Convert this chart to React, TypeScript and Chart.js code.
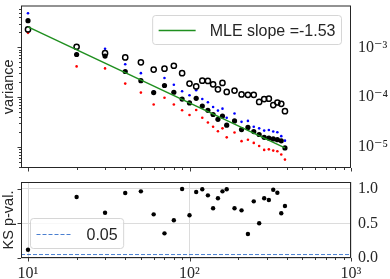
import React, { useEffect, useRef } from 'react';
import { Chart, registerables } from 'chart.js';

Chart.register(...registerables);

// ---------------- data ----------------
const windowSizes = [10, 20, 30, 40, 50, 60, 70, 80, 90, 100, 110, 120, 130, 140, 150, 160, 170, 190, 210, 230, 250, 270, 290, 310, 330, 350, 370, 390];

const openVariance = [2.30e-3, 1.03e-3, 7.64e-4, 6.28e-4, 5.01e-4, 3.57e-4, 3.73e-4, 4.27e-4, 3.03e-4, 1.87e-4, 1.64e-4, 2.14e-4, 2.11e-4, 1.81e-4, 1.43e-4, 1.93e-4, 1.27e-4, 1.35e-4, 1.13e-4, 1.11e-4, 1.11e-4, 8.00e-5, 9.14e-5, 9.31e-5, 6.90e-5, 7.78e-5, 7.31e-5, 5.20e-5];
const blackVariance = [3.44e-3, 7.18e-4, 6.68e-4, 3.27e-4, 2.14e-4, 1.23e-4, 1.71e-4, 1.25e-4, 9.14e-5, 7.64e-5, 9.44e-5, 6.59e-5, 5.43e-5, 4.47e-5, 3.57e-5, 4.16e-5, 2.73e-5, 3.32e-5, 2.22e-5, 2.46e-5, 2.03e-5, 1.77e-5, 1.55e-5, 1.50e-5, 1.44e-5, 1.39e-5, 1.32e-5, 9.48e-6];
const blueVariance = [4.86e-3, 7.41e-4, 9.39e-4, 4.58e-4, 3.03e-4, 1.29e-4, 2.42e-4, 1.77e-4, 1.31e-4, 1.09e-4, 1.37e-4, 9.14e-5, 7.89e-5, 6.31e-5, 5.35e-5, 5.85e-5, 3.85e-5, 4.67e-5, 3.18e-5, 3.32e-5, 2.54e-5, 2.35e-5, 2.12e-5, 2.18e-5, 2.03e-5, 1.97e-5, 1.64e-5, 1.33e-5];
const redVariance = [1.96e-3, 4.14e-4, 3.78e-4, 1.87e-4, 1.23e-4, 7.11e-5, 9.73e-5, 7.11e-5, 5.43e-5, 4.35e-5, 5.51e-5, 3.85e-5, 3.08e-5, 2.54e-5, 2.06e-5, 2.35e-5, 1.55e-5, 1.94e-5, 1.30e-5, 1.39e-5, 1.20e-5, 1.04e-5, 8.67e-6, 8.89e-6, 8.39e-6, 8.14e-6, 7.02e-6, 5.53e-6];

const fitX = [10, 390];
const fitVariance = [2.59e-3, 9.55e-6];
const fitLabel = 'MLE slope =-1.53';

const ksPValues = [0.12, 0.883, 0.656, 0.94, 0.965, 0.632, 0.357, 0.546, 0.999, 0.618, 0.955, 0.994, 0.907, 0.719, 0.864, 0.965, 0.994, 0.719, 0.69, 0.347, 0.82, 0.502, 0.864, 0.839, 0.988, 0.945, 0.647, 0.753];
const alphaLevel = 0.05;
const alphaLabel = '0.05';

// axis ranges and ticks
const X_MIN = 9.05;
const X_MAX = 1000;
const VAR_MIN = 3.75e-6;
const VAR_MAX = 6.95e-3;
const P_MIN = 0;
const P_MAX = 1.1;

const xMajorTicks = [10, 100, 1000];
const xTickLabels = ['10¹', '10²', '10³'];
const xMinorTicks = [20, 30, 40, 50, 60, 70, 80, 90, 200, 300, 400, 500, 600, 700, 800, 900];

const varMajorTicks = [1e-5, 1e-4, 1e-3];
const varTickLabels = ['10⁻⁵', '10⁻⁴', '10⁻³'];
const varMinorTicks = [4e-6, 5e-6, 6e-6, 7e-6, 8e-6, 9e-6, 2e-5, 3e-5, 4e-5, 5e-5, 6e-5, 7e-5, 8e-5, 9e-5, 2e-4, 3e-4, 4e-4, 5e-4, 6e-4, 7e-4, 8e-4, 9e-4, 2e-3, 3e-3, 4e-3, 5e-3, 6e-3];

const pTicks = [0, 0.5, 1.0];
const pTickLabels = ['0.0', '0.5', '1.0'];

// ---------------- styles ----------------
const SANS = "'Liberation Sans', Arial, sans-serif";
const SERIF = "'Liberation Serif', 'DejaVu Serif', serif";
const INK = '#262626';
const GRID = '#dcdcdc';
const GREEN = '#1f8f1f';
const DASH_BLUE = '#4a7fd0';

function labelFor(values: number[], labels: string[]) {
  return (v: any) => {
    const n = Number(v);
    const i = values.findIndex((t) => t === n || (t !== 0 && Math.abs(t - n) / Math.abs(t) < 1e-6));
    return i >= 0 ? labels[i] : '';
  };
}

function fixSize(dim: 'width' | 'height', size: number) {
  return (s: any) => {
    s[dim] = size;
    s.paddingTop = 0;
    s.paddingBottom = 0;
    s.paddingLeft = 0;
    s.paddingRight = 0;
  };
}

function frameTicksPlugin(cfg: { xMajor: number[]; xMinor: number[]; yMajor: number[]; yMinor: number[]; yScale: string }) {
  return {
    id: 'frameTicks',
    afterDraw(chart: any) {
      const { ctx, chartArea: a, scales } = chart;
      const xs = scales.x;
      const ys = scales[cfg.yScale];
      ctx.save();
      ctx.strokeStyle = INK;
      ctx.lineWidth = 0.9;
      ctx.beginPath();
      const vx = (v: number, len: number) => {
        const p = Math.round(xs.getPixelForValue(v)) + 0.5;
        ctx.moveTo(p, a.bottom);
        ctx.lineTo(p, a.bottom + len);
      };
      const hy = (v: number, len: number) => {
        const p = Math.round(ys.getPixelForValue(v)) + 0.5;
        ctx.moveTo(a.left, p);
        ctx.lineTo(a.left - len, p);
      };
      cfg.xMajor.forEach((v) => vx(v, 3.5));
      cfg.xMinor.forEach((v) => vx(v, 2));
      cfg.yMajor.forEach((v) => hy(v, 3.5));
      cfg.yMinor.forEach((v) => hy(v, 2));
      ctx.stroke();
      ctx.lineWidth = 1;
      ctx.strokeRect(a.left + 0.5, a.top + 0.5, a.right - a.left - 1, a.bottom - a.top - 1);
      ctx.restore();
    },
  };
}

function boxLegendPlugin(cfg: { datasetIndex: number; corner: 'tr' | 'bl'; lineLen: number; h: number }) {
  return {
    id: 'boxLegend',
    afterDraw(chart: any) {
      const { ctx, chartArea: a } = chart;
      const ds = chart.data.datasets[cfg.datasetIndex];
      ctx.save();
      ctx.font = `16px ${SANS}`;
      const tw = ctx.measureText(ds.label).width;
      const padL = 6, gap = 14, padR = 6;
      const w = padL + cfg.lineLen + gap + tw + padR;
      const h = cfg.h;
      const x0 = cfg.corner === 'tr' ? a.right - 9.5 - w : a.left + 9.5;
      const y0 = cfg.corner === 'tr' ? a.top + 10 : a.bottom - 9.5 - h;
      ctx.beginPath();
      if ((ctx as any).roundRect) (ctx as any).roundRect(x0, y0, w, h, 3);
      else ctx.rect(x0, y0, w, h);
      ctx.fillStyle = 'rgba(255,255,255,0.8)';
      ctx.fill();
      ctx.strokeStyle = 'rgba(204,204,204,0.8)';
      ctx.lineWidth = 1;
      ctx.stroke();
      const ly = Math.round(y0 + h / 2) + 0.5;
      ctx.beginPath();
      ctx.setLineDash(ds.borderDash || []);
      ctx.strokeStyle = ds.borderColor;
      ctx.lineWidth = ds.borderWidth;
      ctx.moveTo(x0 + padL, ly);
      ctx.lineTo(x0 + padL + cfg.lineLen, ly);
      ctx.stroke();
      ctx.setLineDash([]);
      ctx.fillStyle = INK;
      ctx.textBaseline = 'middle';
      ctx.textAlign = 'left';
      ctx.fillText(ds.label, x0 + padL + cfg.lineLen + gap, ly + 1);
      ctx.restore();
    },
  };
}

function points(xv: number[], yv: number[]) {
  return xv.map((x, i) => ({ x, y: yv[i] }));
}

export default function App() {
  const topRef = useRef<HTMLCanvasElement>(null);
  const botRef = useRef<HTMLCanvasElement>(null);

  useEffect(() => {
    const top = new Chart(topRef.current as HTMLCanvasElement, {
      type: 'scatter',
      data: {
        datasets: [
          {
            label: fitLabel,
            data: points(fitX, fitVariance),
            showLine: true,
            borderColor: GREEN,
            borderWidth: 1.5,
            pointRadius: 0,
            yAxisID: 'y',
          },
          {
            label: 'open',
            data: points(windowSizes, openVariance),
            pointRadius: 2.6,
            pointBorderWidth: 1.5,
            pointBorderColor: '#000',
            pointBackgroundColor: 'rgba(0,0,0,0)',
            yAxisID: 'y',
          },
          {
            label: 'filled',
            data: points(windowSizes, blackVariance),
            pointRadius: 2.6,
            pointBorderWidth: 0,
            pointBackgroundColor: '#000',
            yAxisID: 'y',
          },
          {
            label: 'blue',
            data: points(windowSizes, blueVariance),
            pointRadius: 1.3,
            pointBorderWidth: 0,
            pointBackgroundColor: '#0000ff',
            yAxisID: 'y',
          },
          {
            label: 'red',
            data: points(windowSizes, redVariance),
            pointRadius: 1.3,
            pointBorderWidth: 0,
            pointBackgroundColor: '#ff0000',
            yAxisID: 'y',
          },
        ],
      },
      options: {
        responsive: false,
        animation: false,
        layout: { padding: { top: 0, bottom: 10, left: 0, right: 0 } },
        plugins: { legend: { display: false }, tooltip: { enabled: false } },
        scales: {
          x: { type: 'logarithmic', min: X_MIN, max: X_MAX, display: false, afterFit: fixSize('height', 0) },
          y: {
            type: 'logarithmic',
            position: 'left',
            min: VAR_MIN,
            max: VAR_MAX,
            ticks: { display: false },
            grid: { display: false },
            border: { display: false },
            title: { display: true, text: 'variance', color: INK, font: { family: SANS, size: 14.5 }, padding: { top: 0, bottom: 0 } },
            afterFit: fixSize('width', 21),
          },
          y2: {
            type: 'logarithmic',
            position: 'right',
            min: VAR_MIN,
            max: VAR_MAX,
            afterBuildTicks: (s: any) => { s.ticks = varMajorTicks.map((v) => ({ value: v })); },
            ticks: { autoSkip: false, padding: 7, color: INK, font: { family: SERIF, size: 16 }, callback: labelFor(varMajorTicks, varTickLabels) },
            grid: { display: false, drawTicks: false },
            border: { display: false },
            afterFit: fixSize('width', 39),
          },
        },
      } as any,
      plugins: [
        frameTicksPlugin({ xMajor: xMajorTicks, xMinor: xMinorTicks, yMajor: varMajorTicks, yMinor: varMinorTicks, yScale: 'y' }),
        boxLegendPlugin({ datasetIndex: 0, corner: 'tr', lineLen: 37, h: 29 }),
      ] as any,
    });

    const bot = new Chart(botRef.current as HTMLCanvasElement, {
      type: 'scatter',
      data: {
        datasets: [
          {
            label: alphaLabel,
            data: [{ x: X_MIN, y: alphaLevel }, { x: X_MAX, y: alphaLevel }],
            showLine: true,
            borderColor: DASH_BLUE,
            borderWidth: 1,
            borderDash: [4, 2],
            pointRadius: 0,
            yAxisID: 'y',
          },
          {
            label: 'KS',
            data: points(windowSizes, ksPValues),
            pointRadius: 2.2,
            pointBorderWidth: 0,
            pointBackgroundColor: '#000',
            yAxisID: 'y',
          },
        ],
      },
      options: {
        responsive: false,
        animation: false,
        layout: { padding: { top: 4, bottom: 0, left: 0, right: 0 } },
        plugins: { legend: { display: false }, tooltip: { enabled: false } },
        scales: {
          x: {
            type: 'logarithmic',
            min: X_MIN,
            max: X_MAX,
            afterBuildTicks: (s: any) => { s.ticks = xMajorTicks.map((v) => ({ value: v })); },
            ticks: { autoSkip: false, maxRotation: 0, padding: 6, color: INK, font: { family: SERIF, size: 16 }, callback: labelFor(xMajorTicks, xTickLabels) },
            grid: { color: GRID, lineWidth: 1, drawTicks: false },
            border: { display: false },
            afterFit: fixSize('height', 21),
          },
          y: {
            type: 'linear',
            position: 'left',
            min: P_MIN,
            max: P_MAX,
            afterBuildTicks: (s: any) => { s.ticks = pTicks.map((v) => ({ value: v })); },
            ticks: { display: false },
            grid: { color: GRID, lineWidth: 1, drawTicks: false },
            border: { display: false },
            title: { display: true, text: 'KS p-val.', color: INK, font: { family: SANS, size: 14.5 }, padding: { top: 0, bottom: 0 } },
            afterFit: fixSize('width', 21),
          },
          y2: {
            type: 'linear',
            position: 'right',
            min: P_MIN,
            max: P_MAX,
            afterBuildTicks: (s: any) => { s.ticks = pTicks.map((v) => ({ value: v })); },
            ticks: { autoSkip: false, padding: 7, color: INK, font: { family: SERIF, size: 16 }, callback: labelFor(pTicks, pTickLabels) },
            grid: { display: false, drawTicks: false },
            border: { display: false },
            afterFit: fixSize('width', 39),
          },
        },
      } as any,
      plugins: [
        frameTicksPlugin({ xMajor: xMajorTicks, xMinor: xMinorTicks, yMajor: pTicks, yMinor: [], yScale: 'y' }),
        boxLegendPlugin({ datasetIndex: 0, corner: 'bl', lineLen: 36, h: 30 }),
      ] as any,
    });

    return () => {
      top.destroy();
      bot.destroy();
    };
  }, []);

  return (
    <div style={{ position: 'fixed', left: 0, top: 0, width: 390, height: 279, background: '#fff' }}>
      <canvas ref={topRef} width={390} height={178} style={{ position: 'absolute', left: 0, top: 0, display: 'block' }} />
      <canvas ref={botRef} width={390} height={101} style={{ position: 'absolute', left: 0, top: 178, display: 'block' }} />
    </div>
  );
}
